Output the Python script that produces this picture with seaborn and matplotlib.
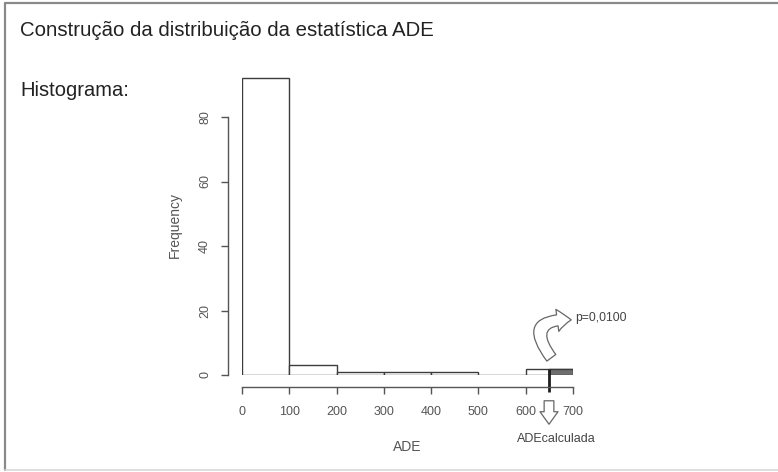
import numpy as np
import pandas as pd
import matplotlib
matplotlib.use("Agg")
import matplotlib.pyplot as plt
from matplotlib.patches import FancyArrowPatch
import seaborn as sns

# Histogram of the ADE statistic (simulated distribution)
bin_edges = [0, 100, 200, 300, 400, 500, 600, 700]
bin_counts = [92, 3, 1, 1, 1, 0, 2]
ade_calculated = 650
p_value_label = "p=0,0100"
y_ticks = [0, 20, 40, 60, 80]
x_ticks = [0, 100, 200, 300, 400, 500, 600, 700]

sns.set_theme(style="white")
plt.rcParams["font.family"] = ["Liberation Sans", "DejaVu Sans"]

W, H = 778, 472
PT = 72 / 100  # points per pixel at 100 dpi
fig = plt.figure(figsize=(W / 100, H / 100), dpi=100)
fig.patch.set_facecolor("white")

# slide frame
frame = fig.add_axes([0, 0, 1, 1])
frame.set_xlim(0, W)
frame.set_ylim(H, 0)
frame.axis("off")
frame.add_line(plt.Line2D([5, 5], [2.5, 470], color="#8a8a8a", lw=1.6))
frame.add_line(plt.Line2D([5, 778], [2.5, 2.5], color="#8a8a8a", lw=1.6))
frame.add_line(plt.Line2D([5, 778], [470, 470], color="#d8d8d8", lw=1.2))

frame.text(20, 30, "Construção da distribuição da estatística ADE",
           fontsize=14.7, color="#222222", va="center", ha="left")
frame.text(20, 91, "Histograma:", fontsize=14.5, color="#222222",
           va="center", ha="left")

# histogram axes: x 0..700 -> px 242..573, y 0 at px 375
x0, x1 = 242, 573
y0 = 375
px_per_unit = 3.225
ymax = 100
ax_h = ymax * px_per_unit
ax = fig.add_axes([x0 / W, (H - y0) / H, (x1 - x0) / W, ax_h / H])

df = pd.DataFrame({
    "centre": [(a + b) / 2 for a, b in zip(bin_edges[:-1], bin_edges[1:])],
    "count": bin_counts,
})
sns.histplot(data=df, x="centre", weights="count", bins=bin_edges, ax=ax,
             color="white", edgecolor="#3c3c3c", linewidth=1.0, alpha=1)

# upper tail beyond the observed value
last_count = bin_counts[-1]
tail = pd.DataFrame({"centre": [(ade_calculated + bin_edges[-1]) / 2],
                     "count": [last_count]})
sns.histplot(data=tail, x="centre", weights="count",
             bins=[ade_calculated, bin_edges[-1]], ax=ax,
             color="#6e6e6e", edgecolor="#3c3c3c", linewidth=1.0, alpha=1)

ax.plot([ade_calculated, ade_calculated], [last_count, -5.3],
        color="#1e1e1e", lw=2.0, clip_on=False, solid_capstyle="butt")

ax.set_xlim(0, 700)
ax.set_ylim(0, ymax)
ax.set_facecolor("none")
for s in ["top", "right"]:
    ax.spines[s].set_visible(False)
ax.spines["left"].set_position(("outward", 14 * PT))
ax.spines["bottom"].set_position(("outward", 12 * PT))
ax.spines["left"].set_bounds(0, 80)
ax.spines["bottom"].set_bounds(0, 700)
for s in ["left", "bottom"]:
    ax.spines[s].set_color("#555555")
    ax.spines[s].set_linewidth(1.0)
ax.set_yticks(y_ticks)
ax.set_xticks(x_ticks)
ax.set_yticklabels([str(v) for v in y_ticks], rotation=90, va="center")
ax.tick_params(axis="both", which="both", direction="out", length=7 * PT,
               width=1.0, color="#555555", labelcolor="#555555",
               labelsize=9, left=True, bottom=True)
ax.tick_params(axis="x", pad=12 * PT)
ax.tick_params(axis="y", pad=10 * PT)
ax.set_xlabel("ADE", fontsize=10, color="#555555")
ax.set_ylabel("Frequency", fontsize=10, color="#555555")
ax.xaxis.set_label_coords((407 - x0) / (x1 - x0), -(447 - y0) / ax_h)
ax.yaxis.set_label_coords((175 - x0) / (x1 - x0), (y0 - 225) / ax_h)
ax.xaxis.label.set_va("center")
ax.yaxis.label.set_va("center")
ax.grid(False)

# annotations in slide pixel coordinates
curved = FancyArrowPatch((553, 360), (574, 320),
                         connectionstyle="arc3,rad=-1.1",
                         arrowstyle="simple,head_width=16,head_length=10,tail_width=8",
                         fc="white", ec="#666666", lw=0.9, mutation_scale=1)
frame.add_patch(curved)
frame.text(575, 318, p_value_label, fontsize=8.7, color="#444444",
           va="center", ha="left")

down = FancyArrowPatch((549, 398), (549, 427),
                       arrowstyle="simple,head_width=13,head_length=9,tail_width=7",
                       fc="white", ec="#666666", lw=0.9, mutation_scale=1)
frame.add_patch(down)
frame.text(556, 439, "ADEcalculada", fontsize=9, color="#444444",
           va="center", ha="center")

fig.savefig("out.png", dpi=100, facecolor="white")
